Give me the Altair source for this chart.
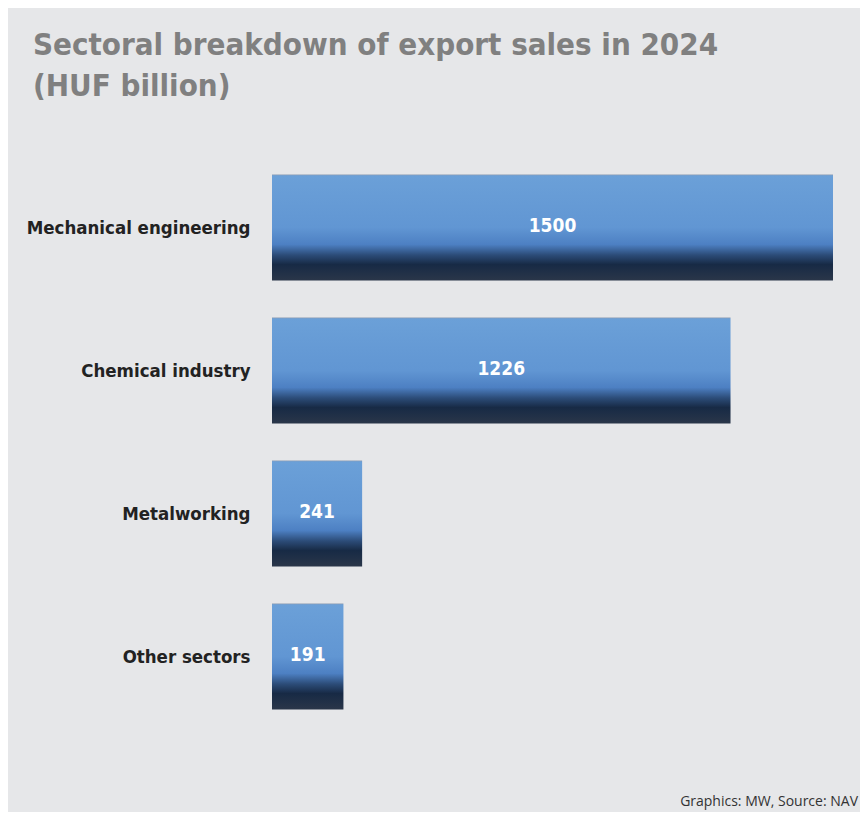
import altair as alt
import pandas as pd

categories = ["Mechanical engineering", "Chemical industry", "Metalworking", "Other sectors"]
values = [1500, 1226, 241, 191]
title_lines = ["Sectoral breakdown of export sales in 2024", "(HUF billion)"]
footer = ["Graphics: MW, Source: NAV"]

df = pd.DataFrame({"sector": categories, "value": values})
foot_df = pd.DataFrame({"t": footer})

FONT = "DejaVu Sans Condensed, Open Sans, sans-serif"

grad = alt.Gradient(
    gradient="linear",
    x1=0, y1=0, x2=0, y2=1,
    stops=[
        alt.GradientStop(offset=0.0, color="#8a9cb4"),
        alt.GradientStop(offset=0.012, color="#6ba0d8"),
        alt.GradientStop(offset=0.5, color="#6196d3"),
        alt.GradientStop(offset=0.66, color="#4d80c3"),
        alt.GradientStop(offset=0.76, color="#2c4c78"),
        alt.GradientStop(offset=0.85, color="#172a45"),
        alt.GradientStop(offset=1.0, color="#2a3649"),
    ],
)

y_enc = alt.Y(
    "sector:N",
    sort=categories,
    scale=alt.Scale(paddingInner=0.26, paddingOuter=0.13),
    axis=alt.Axis(
        title=None, domain=False, ticks=False, grid=False,
        labelFont=FONT, labelFontSize=18.5, labelFontWeight="bold",
        labelColor="#222222", labelPadding=22, labelLimit=300,
    ),
)

bars = alt.Chart(df).mark_bar(color=grad, cornerRadius=0).encode(
    x=alt.X("value:Q", scale=alt.Scale(domain=[0, 1500], nice=False), axis=None),
    y=y_enc,
)

labels = alt.Chart(df).transform_calculate(mid="datum.value / 2").mark_text(
    color="white", font=FONT, fontSize=19, fontWeight="bold", dy=-2
).encode(
    x=alt.X("mid:Q"),
    y=alt.Y("sector:N", sort=categories),
    text=alt.Text("value:Q"),
)

foot = alt.Chart(foot_df).mark_text(
    align="right", baseline="alphabetic", font="Open Sans, sans-serif",
    fontSize=14, color="#333333"
).encode(
    x=alt.value(586), y=alt.value(650), text="t:N"
)

chart = alt.layer(bars, labels, foot).properties(
    width=561,
    height=572,
    autosize="none",
    padding={"left": 264, "top": 148, "right": 27, "bottom": 84},
    title=alt.TitleParams(
        title_lines,
        anchor="start",
        frame="group",
        dx=-239,
        offset=53,
        font=FONT,
        fontSize=31,
        fontWeight="bold",
        color="#808080",
        lineHeight=41,
    ),
).configure(background="#e6e7e9").configure_view(stroke=None)

chart.save("out.html", embed_options={"renderer": "svg", "actions": False})
